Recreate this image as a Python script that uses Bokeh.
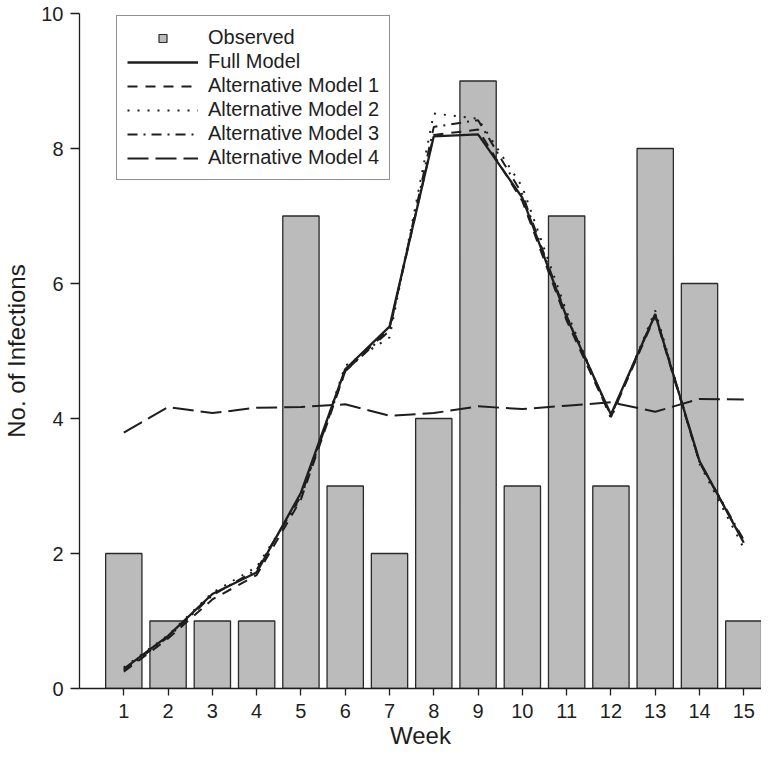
from bokeh.plotting import figure
from bokeh.models import Range1d, FixedTicker, Legend, LegendItem, ColumnDataSource
from bokeh.embed import file_html
from bokeh.resources import INLINE

weeks = list(range(1, 16))
observed = [2, 1, 1, 1, 7, 3, 2, 4, 9, 3, 7, 3, 8, 6, 1]
full_model = [0.29, 0.78, 1.40, 1.72, 2.90, 4.73, 5.36, 8.18, 8.21, 7.27, 5.50, 4.06, 5.54, 3.37, 2.16]
alt_model_1 = [0.25, 0.74, 1.32, 1.68, 2.80, 4.70, 5.33, 8.20, 8.28, 7.22, 5.45, 4.02, 5.52, 3.35, 2.18]
alt_model_2 = [0.31, 0.79, 1.42, 1.80, 2.82, 4.78, 5.20, 8.52, 8.44, 7.43, 5.58, 4.00, 5.60, 3.33, 2.08]
alt_model_3 = [0.27, 0.76, 1.38, 1.76, 2.85, 4.70, 5.30, 8.32, 8.42, 7.32, 5.52, 4.04, 5.55, 3.36, 2.20]
alt_model_4 = [3.79, 4.17, 4.08, 4.16, 4.17, 4.21, 4.04, 4.08, 4.18, 4.14, 4.19, 4.24, 4.10, 4.29, 4.28]
y_ticks = [0, 2, 4, 6, 8, 10]

FONT = "Liberation Sans"
INK = "#1e1e1e"

p = figure(width=761, height=756, output_backend="svg", toolbar_location=None,
           x_range=Range1d(0, 15.4), y_range=Range1d(0, 10),
           min_border_left=78, min_border_right=0, min_border_top=13, min_border_bottom=68)
p.outline_line_color = None
p.xgrid.visible = False
p.ygrid.visible = False
p.background_fill_color = "white"
p.border_fill_color = "white"

src = ColumnDataSource(dict(week=weeks, obs=observed, full=full_model, a1=alt_model_1,
                            a2=alt_model_2, a3=alt_model_3, a4=alt_model_4))

p.vbar(x="week", top="obs", width=0.82, bottom=0, source=src,
       fill_color="#bbbbbb", line_color="#2a2a2a", line_width=1.3)

r4 = p.line("week", "a4", source=src, line_color=INK, line_width=2.0, line_dash="21 7")
r1 = p.line("week", "a1", source=src, line_color=INK, line_width=2.0, line_dash="10 8")
r2 = p.line("week", "a2", source=src, line_color=INK, line_width=2.0, line_dash="2 8")
r3 = p.line("week", "a3", source=src, line_color=INK, line_width=2.0, line_dash="10 6 2 6")
rf = p.line("week", "full", source=src, line_color=INK, line_width=2.3)

# legend key for the observed bars (renderer hidden, only its legend swatch is shown)
obs_key = p.scatter(x="week", y="obs", source=src, marker="square", size=9,
                    fill_color="#bbbbbb", line_color="#2a2a2a", line_width=1.2)
obs_key.visible = False

for ax in (p.xaxis[0], p.yaxis[0]):
    ax.axis_line_color = INK
    ax.axis_line_width = 1.3
    ax.major_tick_line_color = INK
    ax.major_tick_line_width = 1.3
    ax.minor_tick_line_color = None
    ax.major_tick_in = 0
    ax.major_label_text_font = FONT
    ax.major_label_text_color = INK
    ax.major_label_text_font_size = "20px"
    ax.axis_label_text_font = FONT
    ax.axis_label_text_font_style = "normal"
    ax.axis_label_text_color = INK
    ax.axis_label_text_font_size = "24px"

p.xaxis[0].ticker = FixedTicker(ticks=weeks)
p.xaxis[0].major_tick_out = 7
p.xaxis[0].major_label_standoff = 8
p.xaxis[0].axis_label = "Week"
p.xaxis[0].axis_label_standoff = 1

p.yaxis[0].ticker = FixedTicker(ticks=y_ticks)
p.yaxis[0].major_tick_out = 9
p.yaxis[0].major_label_standoff = 7
p.yaxis[0].axis_label = "No. of Infections"
p.yaxis[0].axis_label_standoff = 8

legend = Legend(items=[
    LegendItem(label="Observed", renderers=[obs_key]),
    LegendItem(label="Full Model", renderers=[rf]),
    LegendItem(label="Alternative Model 1", renderers=[r1]),
    LegendItem(label="Alternative Model 2", renderers=[r2]),
    LegendItem(label="Alternative Model 3", renderers=[r3]),
    LegendItem(label="Alternative Model 4", renderers=[r4]),
], location=(37, 508))
legend.label_text_font = FONT
legend.label_text_font_size = "20px"
legend.label_text_color = INK
legend.glyph_width = 71
legend.glyph_height = 20
legend.label_height = 20
legend.spacing = 1
legend.padding = 10
legend.label_standoff = 10
legend.margin = 0
legend.inactive_fill_alpha = 0.0
legend.border_line_color = "#222222"
legend.border_line_width = 1.5
legend.background_fill_color = "white"
legend.background_fill_alpha = 1.0
p.add_layout(legend, "center")

open("out.html", "w").write(file_html(p, INLINE))
